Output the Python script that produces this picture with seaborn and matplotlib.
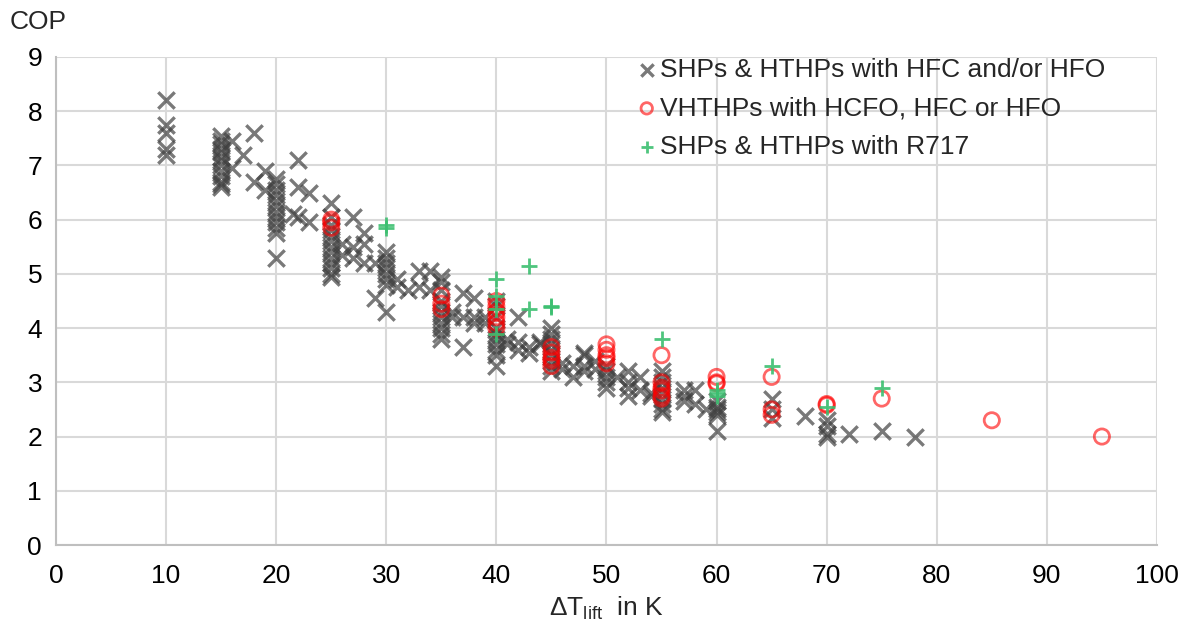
import numpy as np
import pandas as pd
import matplotlib
matplotlib.use("Agg")
import matplotlib.pyplot as plt
import seaborn as sns

# --- data: temperature lift (K) vs. COP ---
hfc_x = ([10] * 5 + [15] * 13 + [16, 16, 17, 18, 18, 19, 19] + [20] * 12 +
         [21.5, 22, 22, 22, 23, 23] + [25] * 13 +
         [26, 26, 27, 27, 27, 28, 28, 28, 29, 29] + [30] * 8 +
         [31, 31, 32, 33, 33, 34, 34] + [35] * 11 +
         [36, 36, 37, 37, 37, 38, 38, 38, 39, 39] + [40] * 10 +
         [41, 41, 42, 42, 42, 43, 43, 44, 44] + [45] * 9 +
         [46, 46, 47, 47, 48, 48, 48, 48, 49, 49] + [50] * 5 +
         [51, 52, 52, 52, 52, 53, 53, 54, 54] + [55] * 9 +
         [57, 57, 57, 58, 58, 59] + [60] * 6 +
         [65, 65, 65, 68, 70, 70, 70, 70, 72, 75, 78])
hfc_cop = ([8.2, 7.75, 7.6, 7.3, 7.2] +
           [7.55, 7.45, 7.4, 7.3, 7.25, 7.15, 7.1, 7.0, 6.9, 6.8, 6.7, 6.65, 6.6] +
           [7.45, 6.95, 7.2, 7.6, 6.7, 6.9, 6.55] +
           [6.75, 6.65, 6.55, 6.45, 6.35, 6.25, 6.15, 6.05, 5.95, 5.85, 5.75, 5.3] +
           [6.1, 7.1, 6.6, 6.05, 6.5, 5.95] +
           [6.3, 6.05, 5.9, 5.8, 5.7, 5.6, 5.5, 5.4, 5.3, 5.2, 5.1, 5.0, 4.95] +
           [5.55, 5.35, 6.05, 5.5, 5.3, 5.75, 5.55, 5.2, 4.55, 5.2] +
           [5.4, 5.3, 5.2, 5.1, 5.0, 4.9, 4.8, 4.3] +
           [4.75, 4.9, 4.7, 5.05, 4.75, 5.05, 4.7] +
           [4.95, 4.85, 4.7, 4.5, 4.4, 4.3, 4.2, 4.1, 4.0, 3.9, 3.8] +
           [4.3, 4.2, 4.65, 4.2, 3.65, 4.55, 4.2, 4.1, 4.2, 4.1] +
           [4.5, 4.4, 4.2, 4.0, 3.9, 3.8, 3.7, 3.6, 3.5, 3.3] +
           [3.8, 3.7, 4.2, 3.75, 3.6, 3.65, 3.55, 3.7, 3.75] +
           [4.0, 3.9, 3.8, 3.7, 3.6, 3.5, 3.4, 3.3, 3.2] +
           [3.25, 3.35, 3.1, 3.3, 3.5, 3.55, 3.3, 3.2, 3.4, 3.25] +
           [3.3, 3.2, 3.1, 3.0, 2.9] +
           [3.1, 3.2, 3.0, 2.9, 2.75, 3.1, 2.85, 2.8, 2.75] +
           [3.2, 3.1, 3.0, 2.9, 2.8, 2.7, 2.6, 2.5, 2.45] +
           [2.85, 2.75, 2.65, 2.85, 2.6, 2.5] +
           [2.65, 2.55, 2.5, 2.45, 2.4, 2.1] +
           [2.7, 2.5, 2.35, 2.38, 2.3, 2.2, 2.05, 2.0, 2.05, 2.1, 2.0])

vht_x = ([25] * 3 + [35] * 3 + [40] * 6 + [45] * 5 + [50] * 5 + [55] * 6 +
         [60] * 3 + [65] * 3 + [70, 70, 75, 85, 95])
vht_cop = ([6.0, 5.95, 5.85] + [4.6, 4.45, 4.35] +
           [4.5, 4.4, 4.3, 4.2, 4.1, 4.0] + [3.65, 3.55, 3.45, 3.4, 3.3] +
           [3.7, 3.6, 3.5, 3.45, 3.35] + [3.5, 3.0, 2.9, 2.85, 2.75, 2.7] +
           [3.1, 3.0, 2.98] + [3.1, 2.5, 2.4] + [2.6, 2.58, 2.7, 2.3, 2.0])

nh3_x = [30, 30, 40, 40, 40, 40, 43, 43, 45, 45, 55, 60, 60, 60, 65, 70, 75]
nh3_cop = [5.9, 5.85, 4.9, 4.6, 4.35, 3.9, 5.15, 4.35, 4.4, 4.38, 3.8,
           2.85, 2.8, 2.75, 3.3, 2.55, 2.9]

labels = ["SHPs & HTHPs with HFC and/or HFO",
          "VHTHPs with HCFO, HFC or HFO",
          "SHPs & HTHPs with R717"]

x_ticks = list(range(0, 101, 10))
y_ticks = list(range(0, 10))

# --- styling ---
sns.set_theme(style="white")
plt.rcParams["font.family"] = ["Liberation Sans", "DejaVu Sans"]
plt.rcParams["mathtext.fontset"] = "custom"
plt.rcParams["mathtext.rm"] = "Liberation Sans"

fig = plt.figure(figsize=(11.79, 6.24), dpi=100)
ax = fig.add_axes([0.0475, 0.1266, 0.9338, 0.7821])

grid_c = "#d9d9d9"
sns.scatterplot(x=hfc_x, y=hfc_cop, marker="x", color="#404040", s=140,
                linewidth=2.4, alpha=0.7, label=labels[0], ax=ax, zorder=3)
sns.scatterplot(x=vht_x, y=vht_cop, marker="o", facecolor="none",
                edgecolor="#ff0000", s=120, linewidth=2.0, alpha=0.6,
                label=labels[1], ax=ax, zorder=4)
sns.scatterplot(x=nh3_x, y=nh3_cop, marker="+", color="#3cbf70", s=130,
                linewidth=2.0, alpha=0.9, label=labels[2], ax=ax, zorder=5)

ax.set_xlim(0, 100)
ax.set_ylim(0, 9)
ax.set_xticks(x_ticks)
ax.set_yticks(y_ticks)
ax.grid(True, color=grid_c, linewidth=1.5)
ax.set_axisbelow(True)
for side in ["top", "right"]:
    ax.spines[side].set_visible(False)
for side in ["left", "bottom"]:
    ax.spines[side].set_color("#bfbfbf")
    ax.spines[side].set_linewidth(1.5)
ax.tick_params(axis="both", length=0, labelsize=19, colors="black", pad=10)
ax.tick_params(axis="x", pad=14)

ax.set_xlabel("ΔT$_{\\mathrm{lift}}$  in K", fontsize=19, labelpad=4)
ax.set_ylabel("")
fig.text(0.008, 0.965, "COP", fontsize=19, ha="left", va="center")

leg = ax.legend(loc="upper left", bbox_to_anchor=(0.515, 1.02), frameon=False,
                fontsize=19, handletextpad=0.0, labelspacing=0.55,
                borderaxespad=0, markerscale=0.75, handlelength=1.0)

fig.savefig("out.png", dpi=100)
